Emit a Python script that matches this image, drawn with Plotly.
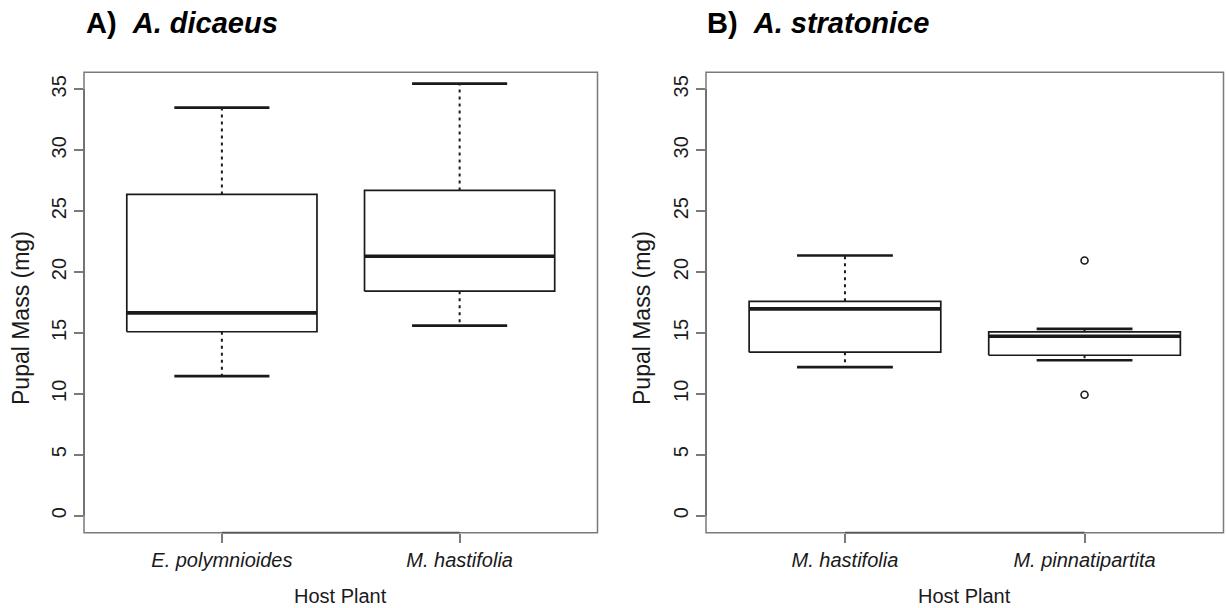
import plotly.graph_objects as go

# ---------------- data ----------------
hosts_a = ["E. polymnioides", "M. hastifolia"]
lower_a = [11.45, 15.6]
q1_a = [15.1, 18.43]
median_a = [16.65, 21.3]
q3_a = [26.37, 26.7]
upper_a = [33.5, 35.47]
outliers_a = [[], []]

hosts_b = ["M. hastifolia", "M. pinnatipartita"]
lower_b = [12.19, 12.76]
q1_b = [13.42, 13.17]
median_b = [16.98, 14.73]
q3_b = [17.6, 15.09]
upper_b = [21.36, 15.34]
outliers_b = [[], [20.95, 9.92]]

y_ticks = [0, 5, 10, 15, 20, 25, 30, 35]
title_a = "A)&nbsp; <i>A. dicaeus</i>"
title_b = "B)&nbsp; <i>A. stratonice</i>"
x_title = "Host Plant"
y_title = "Pupal Mass (mg)"

# ---------------- style ----------------
FONT = "Liberation Sans, Arial, sans-serif"
INK = "#1a1a1a"
FRAME = "#7a7a7a"
BOX_HALF = 0.4
CAP_HALF = 0.2

W, H = 1226, 608
dom_a = [84 / W, 597.5 / W]
dom_b = [706 / W, 1223.5 / W]
dom_y = [(H - 532.7) / H, (H - 72.3) / H]

fig = go.Figure()


def add_panel(xa, ya, lower, q1, med, q3, upper, outs):
    for i in range(len(med)):
        c = i + 1
        # box
        fig.add_trace(go.Scatter(
            x=[c - BOX_HALF, c + BOX_HALF, c + BOX_HALF, c - BOX_HALF, c - BOX_HALF],
            y=[q1[i], q1[i], q3[i], q3[i], q1[i]],
            mode="lines", line=dict(color=INK, width=1.7),
            xaxis=xa, yaxis=ya, showlegend=False, hoverinfo="skip"))
        # whiskers (dashed)
        fig.add_trace(go.Scatter(
            x=[c, c, None, c, c],
            y=[q3[i], upper[i], None, q1[i], lower[i]],
            mode="lines", line=dict(color=INK, width=2, dash="3px,4px"),
            xaxis=xa, yaxis=ya, showlegend=False, hoverinfo="skip"))
        # caps
        fig.add_trace(go.Scatter(
            x=[c - CAP_HALF, c + CAP_HALF, None, c - CAP_HALF, c + CAP_HALF],
            y=[upper[i], upper[i], None, lower[i], lower[i]],
            mode="lines", line=dict(color=INK, width=2.7),
            xaxis=xa, yaxis=ya, showlegend=False, hoverinfo="skip"))
        # median
        fig.add_trace(go.Scatter(
            x=[c - BOX_HALF, c + BOX_HALF],
            y=[med[i], med[i]],
            mode="lines", line=dict(color=INK, width=3.6),
            xaxis=xa, yaxis=ya, showlegend=False, hoverinfo="skip"))
        # outliers
        if outs[i]:
            fig.add_trace(go.Scatter(
                x=[c] * len(outs[i]), y=outs[i], mode="markers",
                marker=dict(symbol="circle-open", size=7, color=INK,
                            line=dict(width=1.6, color=INK)),
                xaxis=xa, yaxis=ya, showlegend=False, hoverinfo="skip"))


add_panel("x", "y", lower_a, q1_a, median_a, q3_a, upper_a, outliers_a)
add_panel("x2", "y2", lower_b, q1_b, median_b, q3_b, upper_b, outliers_b)

xcommon = dict(range=[0.42, 2.58], tickvals=[1, 2], showgrid=False, zeroline=False,
               showline=False, ticks="outside", ticklen=9, tickwidth=1.5,
               tickcolor=FRAME, tickfont=dict(family=FONT, size=20, color=INK),
               fixedrange=True)
ycommon = dict(range=[-1.4, 36.4], tickvals=y_ticks, ticktext=[str(v) for v in y_ticks],
               showgrid=False, zeroline=False, showline=False, ticks="outside",
               ticklen=9, tickwidth=1.5, tickcolor=FRAME, tickangle=-90,
               tickfont=dict(family=FONT, size=20, color=INK), domain=dom_y,
               fixedrange=True)

fig.update_layout(
    width=W, height=H, margin=dict(l=0, r=0, t=0, b=0),
    paper_bgcolor="white", plot_bgcolor="white",
    xaxis=dict(xcommon, domain=dom_a, anchor="y",
               ticktext=["<i>%s</i>" % h for h in hosts_a]),
    yaxis=dict(ycommon, anchor="x"),
    xaxis2=dict(xcommon, domain=dom_b, anchor="y2",
                ticktext=["<i>%s</i>" % h for h in hosts_b]),
    yaxis2=dict(ycommon, anchor="x2"),
)

shapes = []
for xr, yr in (("x", "y"), ("x2", "y2")):
    # plot frame
    shapes.append(dict(type="rect", xref=xr + " domain", yref=yr + " domain",
                       x0=0, x1=1, y0=0, y1=1, line=dict(color=FRAME, width=1.5)))
    # axis lines spanning the ticks
    shapes.append(dict(type="line", xref=xr, yref=yr + " domain",
                       x0=1, x1=2, y0=0, y1=0, line=dict(color="#555555", width=1.8)))
    shapes.append(dict(type="line", xref=xr + " domain", yref=yr,
                       x0=0, x1=0, y0=y_ticks[0], y1=y_ticks[-1],
                       line=dict(color="#6a6a6a", width=1.6)))
fig.update_layout(shapes=shapes)

ann = []
for title, x0, dom in ((title_a, 84, dom_a), (title_b, 705, dom_b)):
    ann.append(dict(text="<b>%s</b>" % title, xref="paper", yref="paper",
                    x=x0 / W, y=1 - 23 / H, xanchor="left", yanchor="middle",
                    showarrow=False, font=dict(family=FONT, size=29, color="black")))
    ann.append(dict(text=x_title, xref="paper", yref="paper",
                    x=(dom[0] + dom[1]) / 2, y=1 - 596 / H, xanchor="center",
                    yanchor="middle", showarrow=False,
                    font=dict(family=FONT, size=20, color=INK)))
for xc in (21, 642):
    ann.append(dict(text=y_title, xref="paper", yref="paper", x=xc / W,
                    y=1 - 318 / H, xanchor="center", yanchor="middle",
                    textangle=-90, showarrow=False,
                    font=dict(family=FONT, size=23, color=INK)))
fig.update_layout(annotations=ann)

fig.write_html("out.html")
